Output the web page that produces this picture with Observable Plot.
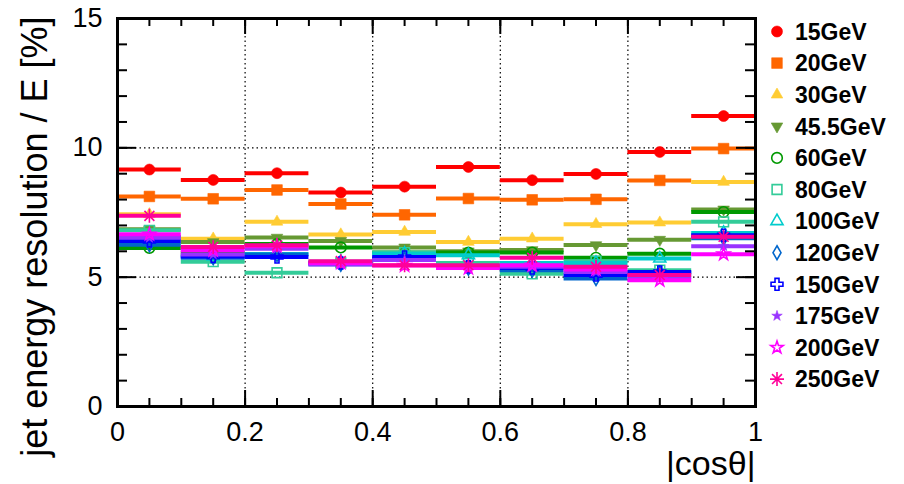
<!DOCTYPE html>
<html><head><meta charset="utf-8">
<script src="https://cdn.jsdelivr.net/npm/d3@7"></script>
<script src="https://cdn.jsdelivr.net/npm/@observablehq/plot@0.6"></script>
<style>
body{margin:0;background:#fff;}
#wrap{position:relative;width:904px;height:484px;font-family:"Liberation Sans",Arial,sans-serif;}
#legend{position:absolute;left:0;top:0;}
</style>
</head><body><div id="wrap"></div>
<script>
// ---- data ----
const binLow  = [0.0, 0.1, 0.2, 0.3, 0.4, 0.5, 0.6, 0.7, 0.8, 0.9];
const binHigh = [0.1, 0.2, 0.3, 0.4, 0.5, 0.6, 0.7, 0.8, 0.9, 1.0];
const energies = ["15GeV","20GeV","30GeV","45.5GeV","60GeV","80GeV","100GeV","120GeV","150GeV","175GeV","200GeV","250GeV"];
const res15  = [9.16, 8.76, 9.02, 8.27, 8.50, 9.26, 8.75, 8.99, 9.84, 11.23];
const res20  = [8.12, 8.03, 8.37, 7.83, 7.41, 8.04, 7.99, 8.01, 8.74, 9.97];
const res30  = [7.43, 6.49, 7.14, 6.65, 6.75, 6.36, 6.49, 7.05, 7.11, 8.68];
const res45  = [6.85, 6.36, 6.53, 6.40, 6.15, 6.00, 6.05, 6.24, 6.45, 7.62];
const res60  = [6.13, 5.95, 6.28, 6.15, 5.95, 5.95, 5.95, 5.75, 5.91, 7.52];
const res80  = [6.81, 5.60, 5.17, 5.55, 5.95, 5.55, 5.13, 5.62, 5.27, 7.14];
const res100 = [6.55, 5.80, 5.90, 5.60, 5.91, 5.85, 5.55, 5.55, 5.72, 6.71];
const res120 = [6.25, 5.75, 5.88, 5.50, 5.70, 5.35, 5.27, 4.95, 5.15, 6.50];
const res150 = [6.40, 5.80, 5.78, 5.55, 5.78, 5.40, 5.35, 5.08, 5.20, 6.62];
const res175 = [6.52, 5.88, 6.10, 5.49, 5.66, 5.40, 5.40, 5.20, 5.00, 6.20];
const res200 = [6.66, 6.04, 6.20, 5.55, 5.45, 5.35, 5.46, 5.30, 4.88, 5.89];
const res250 = [7.37, 6.17, 6.23, 5.62, 5.46, 5.46, 5.75, 5.40, 5.08, 6.56];
const seriesValues = [res15,res20,res30,res45,res60,res80,res100,res120,res150,res175,res200,res250];
const xTicks = [0, 0.2, 0.4, 0.6, 0.8, 1];
const xMinor = d3.range(0, 1.0001, 0.05).map(v => +v.toFixed(2));
const yTicks = [0, 5, 10, 15];
const yMinor = d3.range(0, 16, 1);
const xGrid = [0.2, 0.4, 0.6, 0.8];
const yGrid = [5, 10];

// ---- styles ----
const colors = ["#ff0000","#ff6600","#ffcc33","#669933","#009900","#33cc99","#00cccc","#0066cc","#0000ff","#9933ff","#ff00ff","#ff0099"];
const triDown = {draw(ctx, size){const y=-Math.sqrt(size/(Math.sqrt(3)*3));ctx.moveTo(0,-2*y);ctx.lineTo(-Math.sqrt(3)*y,y);ctx.lineTo(Math.sqrt(3)*y,y);ctx.closePath();}};
const asterisk8 = {draw(ctx, size){const r=Math.sqrt(size/Math.PI);for(let k=0;k<4;k++){const a=k*Math.PI/4;ctx.moveTo(r*Math.cos(a),r*Math.sin(a));ctx.lineTo(-r*Math.cos(a),-r*Math.sin(a));}}};
const markers = [
  {sym:d3.symbolCircle, r:5.5, filled:true},
  {sym:d3.symbolSquare, r:6, filled:true},
  {sym:d3.symbolTriangle, r:4.3, filled:true},
  {sym:triDown, r:4.3, filled:true},
  {sym:d3.symbolCircle, r:5.3, filled:false},
  {sym:d3.symbolSquare, r:5.5, filled:false},
  {sym:d3.symbolTriangle, r:4.5, filled:false},
  {sym:d3.symbolDiamond, r:4.2, filled:false},
  {sym:d3.symbolCross, r:5, filled:false},
  {sym:d3.symbolStar, r:3.3, filled:true},
  {sym:d3.symbolStar, r:3.9, filled:false},
  {sym:asterisk8, r:7, filled:false}
];

const W = 904, H = 484, mL = 117, mR = 149, mT = 18, mB = 78;
const pW = W - mL - mR, pH = H - mT - mB;
const font = "'Liberation Sans', Arial, sans-serif";

const marks = [
  Plot.ruleX(xGrid, {x: d => d, stroke: "black", strokeWidth: 1.2, strokeDasharray: "1.5,3"}),
  Plot.ruleY(yGrid, {y: d => d, stroke: "black", strokeWidth: 1.2, strokeDasharray: "1.5,3"})
];
seriesValues.forEach((vals, s) => {
  const rows = vals.map((v, i) => ({lo: binLow[i], hi: binHigh[i], mid: (binLow[i] + binHigh[i]) / 2, v}));
  const m = markers[s];
  marks.push(Plot.ruleY(rows, {y: "v", x1: "lo", x2: "hi", stroke: colors[s], strokeWidth: 4}));
  marks.push(Plot.dot(rows, {x: "mid", y: "v", symbol: m.sym, r: m.r,
    fill: m.filled ? colors[s] : "none", stroke: colors[s], strokeWidth: m.filled ? 0.6 : 1.6}));
});
// ticks (inward)
marks.push(
  Plot.ruleX(xTicks, {x: d => d, insetTop: pH - 16, strokeWidth: 2}),
  Plot.ruleX(xTicks, {x: d => d, insetBottom: pH - 16, strokeWidth: 2}),
  Plot.ruleX(xMinor, {x: d => d, insetTop: pH - 8, strokeWidth: 2}),
  Plot.ruleX(xMinor, {x: d => d, insetBottom: pH - 8, strokeWidth: 2}),
  Plot.ruleY(yTicks, {y: d => d, insetRight: pW - 19, strokeWidth: 2}),
  Plot.ruleY(yTicks, {y: d => d, insetLeft: pW - 19, strokeWidth: 2}),
  Plot.ruleY(yMinor, {y: d => d, insetRight: pW - 10, strokeWidth: 2}),
  Plot.ruleY(yMinor, {y: d => d, insetLeft: pW - 10, strokeWidth: 2}),
  Plot.frame({stroke: "black", strokeWidth: 3}),
  Plot.text(xTicks, {x: d => d, frameAnchor: "bottom", lineAnchor: "top", dy: 15, text: d => String(d), fontSize: 27, fill: "black"}),
  Plot.text(yTicks, {y: d => d, frameAnchor: "left", textAnchor: "end", dx: -15, text: d => String(d), fontSize: 27, fill: "black"}),
  Plot.text(["jet energy resolution / E [%]"], {frameAnchor: "top-left", textAnchor: "end", lineAnchor: "middle", rotate: -90, dx: -82, dy: -2, text: d => d, fontSize: 36, fill: "black"}),
  Plot.text(["|cosθ|"], {frameAnchor: "bottom-right", textAnchor: "end", lineAnchor: "bottom", dy: 68, text: d => d, fontSize: 34, fill: "black", fontFamily: "'Liberation Sans Narrow', 'Liberation Sans', sans-serif"})
);

const chart = Plot.plot({
  width: W, height: H,
  marginLeft: mL, marginRight: mR, marginTop: mT, marginBottom: mB,
  x: {domain: [0, 1], axis: null},
  y: {domain: [0, 15], axis: null},
  style: {fontFamily: font, background: "white", overflow: "visible"},
  marks
});
const wrap = document.getElementById("wrap");
wrap.appendChild(chart);

// ---- legend ----
const leg = d3.select(wrap).append("svg").attr("id", "legend").attr("width", W).attr("height", H)
  .style("pointer-events", "none");
energies.forEach((name, s) => {
  const y = 31.5 + s * 31.6;
  const m = markers[s];
  const size = Math.PI * m.r * m.r;
  leg.append("path").attr("d", d3.symbol(m.sym, size)()).attr("transform", `translate(777,${y})`)
    .attr("fill", m.filled ? colors[s] : "none").attr("stroke", colors[s]).attr("stroke-width", m.filled ? 0.6 : 1.6);
  leg.append("text").attr("x", 795).attr("y", y).attr("dy", "0.36em").attr("font-weight", "bold")
    .attr("font-size", 23).attr("font-family", font).attr("fill", "black").text(name);
});
</script>
</body></html>
